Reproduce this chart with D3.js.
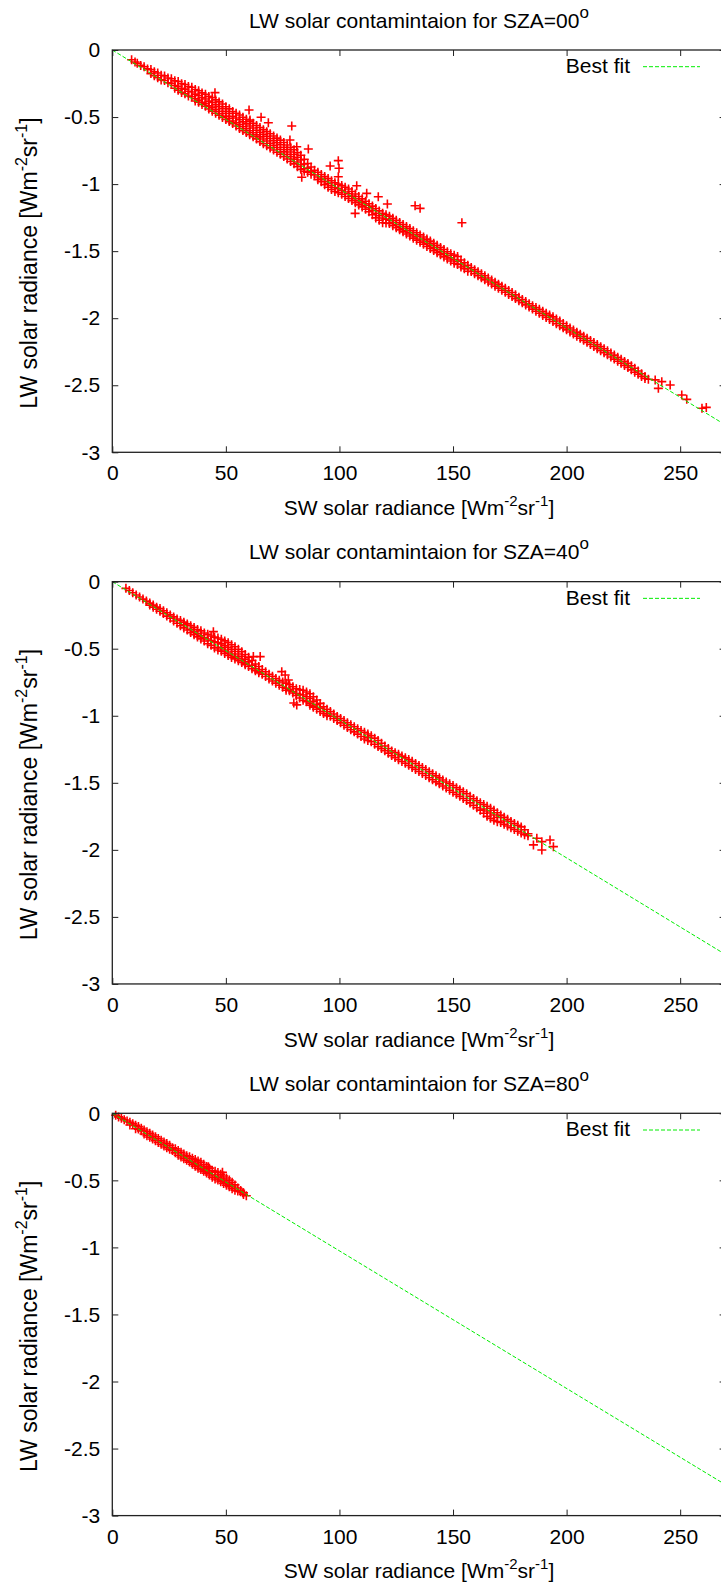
<!DOCTYPE html>
<html lang="en">
<head>
<meta charset="utf-8">
<title>LW solar contamination</title>
<script src="https://d3js.org/d3.v7.min.js"></script>
<style>
  body { margin: 0; background: #fff; }
  svg { display: block; font-family: "Liberation Sans", Arial, Helvetica, sans-serif; }
  .ttl, .lbl, .key { font-size: 21px; fill: #000; }
</style>
</head>
<body>
<svg width="721" height="1584"></svg>
<script>
// ---- data ----
const sza = ["00", "40", "80"];
const xTicks = [0, 50, 100, 150, 200, 250];
const yTicks = [0, -0.5, -1, -1.5, -2, -2.5, -3];
const xDomain = [0, 270];
const yDomain = [-3, 0];

// best fit: line through origin, value at x = 270
const fitX = [0, 270];
const fitY00 = [0, -2.797];
const fitY40 = [0, -2.781];
const fitY80 = [0, -2.770];

// dense band: [x, y, y, ...] (several points sharing one x)
const band00 = [
  [8.5,-.073],[11,-.099],[14,-.125],[17,-.146,-.176],[20,-.172,-.207],
  [23,-.193,-.228],[26,-.214,-.249],[29,-.235,-.27,-.30],[32,-.257,-.292,-.327],
  [35,-.278,-.313,-.348],[38,-.304,-.339,-.374,-.39],[41,-.33,-.365,-.40,-.42],
  [44,-.356,-.391,-.426,-.456],[47,-.387,-.422,-.457,-.487],[50,-.423,-.458,-.493,-.518],
  [53,-.459,-.494,-.529,-.549],[56,-.485,-.52,-.555,-.585],[59,-.516,-.551,-.586,-.616],
  [62,-.547,-.582,-.617,-.647],[65,-.578,-.613,-.648,-.683],[68,-.609,-.644,-.679,-.714],
  [71,-.641,-.676,-.711,-.746],[74,-.672,-.707,-.742,-.777],[77,-.708,-.743,-.778,-.813],
  [80,-.744,-.779,-.814,-.849],[83,-.785,-.82,-.855,-.89],[86,-.846,-.881,-.911],
  [89,-.897,-.932],[92,-.928,-.963,-.983],[95,-.959,-.994,-1.024],[98,-.99,-1.025,-1.055],
  [101,-1.011,-1.046,-1.076],[104,-1.037,-1.072,-1.107],[107,-1.074,-1.109,-1.139],
  [110,-1.11,-1.14,-1.17],[113,-1.146,-1.176,-1.206],[116,-1.182,-1.217,-1.252],
  [119,-1.218,-1.253,-1.288],[122,-1.239,-1.269,-1.294],[125,-1.27,-1.30,-1.325],
  [128,-1.301,-1.331,-1.356],[131,-1.332,-1.362,-1.387],[134,-1.363,-1.393,-1.418],
  [137,-1.394,-1.424,-1.449],[140,-1.425,-1.455,-1.48],[143,-1.456,-1.486,-1.511],
  [146,-1.488,-1.518,-1.543],[149,-1.519,-1.549,-1.574],[152,-1.54,-1.575,-1.60],
  [155,-1.586,-1.611,-1.631],[158,-1.622,-1.652],[161,-1.653,-1.683],[164,-1.684,-1.714],
  [167,-1.715,-1.745],[170,-1.746,-1.776],[173,-1.777,-1.807],[176,-1.808,-1.838],
  [179,-1.844,-1.869],[182,-1.876,-1.901],[185,-1.907,-1.932],[188,-1.933,-1.963],
  [191,-1.964,-1.994],[194,-1.99,-2.025],[197,-2.021,-2.056],[200,-2.057,-2.087],
  [203,-2.088,-2.118],[206,-2.119,-2.149],[209,-2.15,-2.18],[212,-2.181,-2.211],
  [215,-2.212,-2.242],[218,-2.243,-2.273],[221,-2.275,-2.305],[224,-2.306,-2.336],
  [227,-2.337,-2.367],[230,-2.373,-2.403],[233,-2.414,-2.434],[236,-2.455],
  // in-between columns
  [10,-.089],[12.5,-.115],[15.5,-.141],[18.5,-.162,-.192],[21.5,-.188,-.223],
  [24.5,-.209,-.244],[27.5,-.23,-.265,-.285],[30.5,-.251,-.286,-.316],[33.5,-.273,-.308,-.343],
  [36.5,-.294,-.329,-.364,-.38],[39.5,-.32,-.355,-.39,-.406],[42.5,-.346,-.381,-.416,-.44],
  [45.5,-.372,-.407,-.442,-.472],[48.5,-.403,-.438,-.473,-.503],[51.5,-.439,-.474,-.509,-.534],
  [54.5,-.472,-.507,-.542,-.567],[57.5,-.501,-.536,-.571,-.601],[60.5,-.532,-.567,-.602,-.632],
  [63.5,-.563,-.598,-.633,-.663],[66.5,-.594,-.629,-.664,-.699],[69.5,-.625,-.66,-.695,-.73],
  [72.5,-.657,-.692,-.727,-.762],[75.5,-.69,-.725,-.76,-.795],[78.5,-.726,-.761,-.796,-.831],
  [81.5,-.765,-.80,-.835,-.87],[84.5,-.815,-.85,-.885,-.905],[87.5,-.872,-.907,-.927],
  [90.5,-.912,-.947,-.967],[93.5,-.944,-.979,-1.004],[96.5,-.975,-1.01,-1.04],
  [99.5,-1.0,-1.035,-1.065],[102.5,-1.024,-1.059,-1.092],[105.5,-1.055,-1.09,-1.123],
  [108.5,-1.092,-1.125,-1.155],[111.5,-1.128,-1.158,-1.188],[114.5,-1.164,-1.196,-1.229],
  [117.5,-1.2,-1.235,-1.27],[120.5,-1.228,-1.261,-1.291],[123.5,-1.255,-1.285,-1.31],
  [126.5,-1.286,-1.316,-1.341],[129.5,-1.317,-1.347,-1.372],[132.5,-1.348,-1.378,-1.403],
  [135.5,-1.379,-1.409,-1.434],[138.5,-1.41,-1.44,-1.465],[141.5,-1.441,-1.471,-1.496],
  [144.5,-1.472,-1.502,-1.527],[147.5,-1.504,-1.534,-1.559],[150.5,-1.53,-1.562,-1.59],
  [153.5,-1.566,-1.596,-1.618],[156.5,-1.605,-1.63,-1.65],[159.5,-1.638,-1.668],
  [162.5,-1.669,-1.699],[165.5,-1.70,-1.73],[168.5,-1.731,-1.761],[171.5,-1.762,-1.792],
  [174.5,-1.793,-1.823],[177.5,-1.826,-1.854],[180.5,-1.86,-1.885],[183.5,-1.892,-1.917],
  [186.5,-1.92,-1.948],[189.5,-1.949,-1.979],[192.5,-1.977,-2.01],[195.5,-2.006,-2.041],
  [198.5,-2.039,-2.072],[201.5,-2.073,-2.103],[204.5,-2.104,-2.134],[207.5,-2.135,-2.165],
  [210.5,-2.166,-2.196],[213.5,-2.197,-2.227],[216.5,-2.228,-2.258],[219.5,-2.259,-2.289],
  [222.5,-2.291,-2.321],[225.5,-2.322,-2.352],[228.5,-2.355,-2.385],[231.5,-2.394,-2.418],
  [234.5,-2.435,-2.45]
];
const extra00 = [
  [45.2,-.318],[60.2,-.447],[65.5,-.502],[60.6,-.522],[68.7,-.542],[79,-.567],[78.2,-.671],
  [81.2,-.721],[86.3,-.738],[83.4,-.949],[99.5,-.825],[95.9,-.865],[99.8,-.882],[99.5,-.945],
  [107.6,-1.012],[112,-1.069],[117.1,-1.094],[121.1,-1.148],[106.9,-1.218],[133.3,-1.161],
  [135.5,-1.181],[153.9,-1.288],[239,-2.46],[241.9,-2.473],[245.6,-2.498],[240.4,-2.523],
  [250.7,-2.573],[252.9,-2.605],[259.6,-2.672],[261.5,-2.665]
];

const band40 = [
  [6,-.05],[9,-.083],[12,-.114],[15,-.145],[18,-.175,-.19],[21,-.201,-.221],[24,-.232,-.257],
  [27,-.263,-.293],[30,-.289,-.329],[33,-.315,-.36],[36,-.341,-.371,-.396],[39,-.367,-.402,-.427],
  [42,-.393,-.428,-.463],[45,-.414,-.449,-.494],[48,-.429,-.464,-.494,-.519],
  [51,-.455,-.49,-.525,-.55],[54,-.486,-.521,-.556,-.576],[57,-.522,-.557,-.587,-.602],
  [60,-.563,-.598,-.633],[63,-.614,-.649,-.664],[66,-.655,-.69],[69,-.691,-.726],[72,-.722,-.757],
  [75,-.748,-.788],[78,-.768,-.803,-.813],[81,-.799,-.834,-.849],[84,-.81,-.845,-.885],
  [87,-.836,-.871,-.906,-.921],[90,-.882,-.917,-.952],[93,-.933,-.968,-.983],[96,-.969,-1.004],
  [99,-1.005,-1.035],[102,-1.036,-1.071],[105,-1.067,-1.104],[108,-1.097,-1.137],
  [111,-1.123,-1.173],[114,-1.149,-1.194],[117,-1.185,-1.23],[120,-1.226,-1.261],
  [123,-1.262,-1.297],[126,-1.288,-1.328],[129,-1.314,-1.354],[132,-1.34,-1.385],
  [135,-1.371,-1.416],[138,-1.401,-1.446],[141,-1.432,-1.477],[144,-1.463,-1.508],
  [147,-1.494,-1.539],[150,-1.52,-1.57],[153,-1.551,-1.601],[156,-1.582,-1.632],
  [159,-1.618,-1.668],[162,-1.649,-1.704],[165,-1.675,-1.71,-1.75],[168,-1.705,-1.74,-1.78],
  [171,-1.741,-1.796],[174,-1.772,-1.822],[177,-1.803,-1.848],[180,-1.829,-1.874],
  [183,-1.88,-1.895],
  // in-between columns
  [7.5,-.066],[10.5,-.099],[13.5,-.13],[16.5,-.16,-.175],[19.5,-.19,-.206],[22.5,-.217,-.237],
  [25.5,-.248,-.273],[28.5,-.278,-.31],[31.5,-.302,-.322,-.345],[34.5,-.328,-.356,-.38],
  [37.5,-.357,-.387,-.412],[40.5,-.383,-.418,-.443],[43.5,-.405,-.44,-.475],
  [46.5,-.42,-.455,-.49,-.51],[49.5,-.442,-.477,-.51,-.535],[52.5,-.47,-.505,-.54,-.565],
  [55.5,-.504,-.539,-.572,-.59],[58.5,-.543,-.578,-.61,-.62],[61.5,-.588,-.623,-.65],
  [64.5,-.633,-.668,-.68],[67.5,-.672,-.707],[70.5,-.706,-.741],[73.5,-.736,-.772],
  [76.5,-.758,-.795,-.81],[79.5,-.784,-.819,-.83],[82.5,-.805,-.84,-.868],[85.5,-.823,-.858,-.895],
  [88.5,-.858,-.893,-.928,-.937],[91.5,-.908,-.943,-.968],[94.5,-.951,-.986,-1.0],
  [97.5,-.987,-1.02],[100.5,-1.02,-1.053],[103.5,-1.052,-1.087],[106.5,-1.082,-1.12],
  [109.5,-1.11,-1.155],[112.5,-1.136,-1.16,-1.185],[115.5,-1.167,-1.212],[118.5,-1.205,-1.245],
  [121.5,-1.244,-1.279],[124.5,-1.275,-1.312],[127.5,-1.301,-1.341],[130.5,-1.327,-1.37],
  [133.5,-1.356,-1.4],[136.5,-1.386,-1.431],[139.5,-1.417,-1.462],[142.5,-1.448,-1.493],
  [145.5,-1.479,-1.524],[148.5,-1.507,-1.555],[151.5,-1.536,-1.586],[154.5,-1.567,-1.617],
  [157.5,-1.6,-1.65],[160.5,-1.634,-1.686],[163.5,-1.662,-1.695,-1.727],[166.5,-1.69,-1.725,-1.765],
  [169.5,-1.723,-1.758,-1.79],[172.5,-1.757,-1.785,-1.81],[175.5,-1.788,-1.835],
  [178.5,-1.816,-1.861],[181.5,-1.85,-1.887]
];
const extra40 = [
  [44.5,-.373],[62.1,-.559],[65.1,-.559],[74.6,-.671],[76.1,-.696],[77.5,-.733],[81.2,-.919],
  [79.9,-.905],[185.4,-1.963],[186.9,-1.914],[189.1,-1.939],[189.1,-2.001],[192.7,-1.926],
  [194.2,-1.976]
];

const band80 = [
  [1.5,-.015],[4,-.036],[6.5,-.057],[9,-.077],[11.5,-.098,-.118],[14,-.124,-.154],
  [16.5,-.149,-.179],[19,-.175,-.205],[21.5,-.201,-.231],[24,-.226,-.256],[26.5,-.257,-.277],
  [29,-.278,-.313],[31.5,-.303,-.338],[34,-.324,-.364],[36.5,-.344,-.374,-.394],
  [39,-.365,-.40,-.42],[41.5,-.396,-.426,-.446],[44,-.426,-.476],[46.5,-.442,-.477,-.497],
  [49,-.468,-.503,-.523],[51.5,-.498,-.528,-.548],[54,-.534,-.574],[56.5,-.575,-.585],[59,-.615],
  // in-between columns
  [2.75,-.027],[5.25,-.048],[7.75,-.067,-.087],[10.25,-.09,-.115],[12.75,-.111,-.131],
  [15.25,-.137,-.167],[17.75,-.162,-.192],[20.25,-.188,-.218],[22.75,-.214,-.244],
  [25.25,-.239,-.269],[27.75,-.265,-.295],[30.25,-.291,-.326],[32.75,-.316,-.351],
  [35.25,-.335,-.36,-.38],[37.75,-.355,-.387,-.41],[40.25,-.38,-.413,-.433],
  [42.75,-.409,-.44,-.46],[45.25,-.432,-.46,-.49],[47.75,-.455,-.49,-.51],
  [50.25,-.483,-.516,-.536],[52.75,-.514,-.545,-.562],[55.25,-.557,-.58],[57.75,-.593,-.605]
];
const extra80 = [[42.3,-.398],[48.5,-.44],[57.5,-.592]];

const panels = [
  {sza: sza[0], band: band00, extra: extra00, fit: fitY00},
  {sza: sza[1], band: band40, extra: extra40, fit: fitY40},
  {sza: sza[2], band: band80, extra: extra80, fit: fitY80}
];

// ---- layout ----
const left = 112.3, right = 725.6, plotH = 402.3, step = 531.65;
const midX = (left + right) / 2;
const svg = d3.select("svg");
const x = d3.scaleLinear().domain(xDomain).range([left, right]);
const cross = "M-4.5,0H4.5M0,-4.5V4.5";

// label with two superscripts: [Wm^-2 sr^-1]
function unitsLabel(t, size) {
  const sup = Math.round(size * 0.7), up = Math.round(size * 0.45);
  t.append("tspan").text("[Wm");
  t.append("tspan").attr("font-size", sup).attr("dy", -up).text("-2");
  t.append("tspan").attr("font-size", size).attr("dy", up).text("sr");
  t.append("tspan").attr("font-size", sup).attr("dy", -up).text("-1");
  t.append("tspan").attr("font-size", size).attr("dy", up).text("]");
}

panels.forEach((p, i) => {
  const top = 50 + i * step, bottom = top + plotH;
  const y = d3.scaleLinear().domain(yDomain).range([bottom, top]);
  const g = svg.append("g");

  // points
  const pts = p.band.flatMap(r => r.slice(1).map(v => [r[0], v])).concat(p.extra);
  g.append("g")
    .selectAll("path")
    .data(pts)
    .join("path")
    .attr("d", cross)
    .attr("transform", d => `translate(${x(d[0])},${y(d[1])})`)
    .attr("stroke", "#ff0000")
    .attr("stroke-width", 1.6)
    .attr("fill", "none");

  // best fit line
  const fitLine = d3.line().x(d => x(d[0])).y(d => y(d[1]));
  g.append("path")
    .attr("d", fitLine(fitX.map((v, k) => [v, p.fit[k]])))
    .attr("stroke", "#00ee00")
    .attr("stroke-width", 1)
    .attr("stroke-dasharray", "4,2")
    .attr("fill", "none");

  // axes (ticks point inwards, gnuplot style)
  const fmt = d => String(d);
  const axes = [
    [d3.axisBottom(x).tickValues(xTicks).tickSize(-6).tickPadding(13).tickFormat(fmt), `translate(0,${bottom})`],
    [d3.axisTop(x).tickValues(xTicks).tickSize(-6).tickFormat(""), `translate(0,${top})`],
    [d3.axisLeft(y).tickValues(yTicks).tickSize(-6).tickPadding(12).tickFormat(fmt), `translate(${left},0)`],
    [d3.axisRight(y).tickValues(yTicks).tickSize(-6).tickFormat(""), `translate(${right},0)`]
  ];
  axes.forEach(([ax, tr]) => {
    g.append("g")
      .attr("transform", tr)
      .call(ax)
      .attr("font-size", 21)
      .attr("font-family", null)
      .call(a => a.select(".domain").remove())
      .call(a => a.selectAll("line").attr("stroke", "#222"));
  });

  // frame
  g.append("rect")
    .attr("x", left).attr("y", top)
    .attr("width", right - left).attr("height", plotH)
    .attr("fill", "none")
    .attr("stroke", "#222")
    .attr("stroke-width", 1.3);

  // title
  const ttl = g.append("text")
    .attr("class", "ttl")
    .attr("x", midX).attr("y", top - 22.5)
    .attr("text-anchor", "middle");
  ttl.append("tspan").text("LW solar contamintaion for SZA=" + p.sza);
  ttl.append("tspan").attr("font-size", 17).attr("dy", -10).text("o");

  // x label
  const xl = g.append("text")
    .attr("class", "lbl")
    .attr("x", midX).attr("y", bottom + 62.7)
    .attr("text-anchor", "middle");
  xl.append("tspan").text("SW solar radiance ");
  unitsLabel(xl, 21);

  // y label
  const yl = g.append("text")
    .attr("class", "lbl")
    .style("font-size", "23px")
    .attr("transform", `translate(37,${top + 213}) rotate(-90)`)
    .attr("text-anchor", "middle");
  yl.append("tspan").text("LW solar radiance ");
  unitsLabel(yl, 23);

  // key
  g.append("text")
    .attr("class", "key")
    .attr("x", right - 95.6).attr("y", top + 23)
    .attr("text-anchor", "end")
    .text("Best fit");
  g.append("line")
    .attr("x1", right - 82.6).attr("x2", right - 25.6)
    .attr("y1", top + 16.7).attr("y2", top + 16.7)
    .attr("stroke", "#00ee00")
    .attr("stroke-width", 1)
    .attr("stroke-dasharray", "4,2");
});
</script>
</body>
</html>
